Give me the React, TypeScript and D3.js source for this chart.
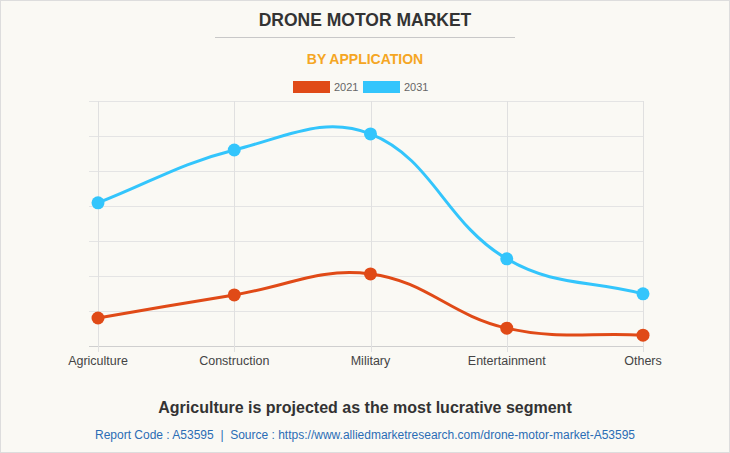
import React from "react";
import * as d3 from "d3";

const categories = ["Agriculture", "Construction", "Military", "Entertainment", "Others"];
const series2021 = [0.8, 1.46, 2.06, 0.51, 0.31];
const series2031 = [4.09, 5.6, 6.06, 2.49, 1.49];
const yTicks = [0, 1, 2, 3, 4, 5, 6, 7];
const seriesNames = ["2021", "2031"];
const seriesColors = ["#e04a17", "#33c5fc"];

const W = 730;
const H = 453;
const FONT = "'Liberation Sans', Arial, Helvetica, sans-serif";

type P = { x: number; y: number };

function chartJsSpline(pts: P[], t: number, top: number, bottom: number): string {
  const p = d3.path();
  const cps = pts.map((cur, i) => {
    const prev = i === 0 ? cur : pts[i - 1];
    const next = i === pts.length - 1 ? cur : pts[i + 1];
    const d01 = Math.hypot(cur.x - prev.x, cur.y - prev.y);
    const d12 = Math.hypot(next.x - cur.x, next.y - cur.y);
    let s01 = d01 / (d01 + d12);
    let s12 = d12 / (d01 + d12);
    if (isNaN(s01)) s01 = 0;
    if (isNaN(s12)) s12 = 0;
    const fa = t * s01;
    const fb = t * s12;
    const clamp = (v: number) => Math.max(top, Math.min(bottom, v));
    return {
      prev: { x: cur.x - fa * (next.x - prev.x), y: clamp(cur.y - fa * (next.y - prev.y)) },
      next: { x: cur.x + fb * (next.x - prev.x), y: clamp(cur.y + fb * (next.y - prev.y)) },
    };
  });
  pts.forEach((pt, i) => {
    if (i === 0) p.moveTo(pt.x, pt.y);
    else p.bezierCurveTo(cps[i - 1].next.x, cps[i - 1].next.y, cps[i].prev.x, cps[i].prev.y, pt.x, pt.y);
  });
  return p.toString();
}

export default function App() {
  const x = d3.scalePoint<string>().domain(categories).range([98, 643]);
  const y = d3.scaleLinear().domain([0, 7]).range([346, 101]);
  const gridLeft = 89;
  const gridRight = 644;
  const data = [series2021, series2031];

  return (
    <div style={{ position: "fixed", left: 0, top: 0 }}>
      <svg width={W} height={H} style={{ display: "block" }}>
        <rect x={0.5} y={0.5} width={W - 1} height={H - 1} fill="#faf9f4" stroke="#dddddd" />
        <text x={365} y={26} textAnchor="middle" fontFamily={FONT} fontWeight="bold" fontSize={17.5} fill="#333333">
          DRONE MOTOR MARKET
        </text>
        <line x1={215} x2={515} y1={37.5} y2={37.5} stroke="#c8c8c8" strokeWidth={1} />
        <text x={365} y={64} textAnchor="middle" fontFamily={FONT} fontWeight="bold" fontSize={14} fill="#f5a623">
          BY APPLICATION
        </text>
        {seriesNames.map((n, i) => (
          <g key={n} transform={`translate(${293 + i * 70},81)`}>
            <rect x={0} y={0} width={37} height={12} fill={seriesColors[i]} />
            <text x={41} y={10} fontFamily={FONT} fontSize={11} fill="#666666">
              {n}
            </text>
          </g>
        ))}
        {yTicks.map((t) => (
          <line
            key={t}
            x1={gridLeft}
            x2={gridRight}
            y1={Math.round(y(t)) + 0.5}
            y2={Math.round(y(t)) + 0.5}
            stroke={t === 0 ? "#cfcfcf" : "#e4e4e4"}
            strokeWidth={1}
          />
        ))}
        {categories.map((c) => (
          <g key={c}>
            <line
              x1={Math.round(x(c)!) + 0.5}
              x2={Math.round(x(c)!) + 0.5}
              y1={101}
              y2={352}
              stroke="#e0e0e0"
              strokeWidth={1}
            />
            <text x={x(c)} y={365} textAnchor="middle" fontFamily={FONT} fontSize={12.5} fill="#444444">
              {c}
            </text>
          </g>
        ))}
        {data.map((s, si) => {
          const pts = s.map((v, i) => ({ x: x(categories[i])!, y: y(v) }));
          return (
            <g key={si}>
              <path d={chartJsSpline(pts, 0.4, 101, 346)} fill="none" stroke={seriesColors[si]} strokeWidth={3} />
              {pts.map((p, i) => (
                <circle key={i} cx={p.x} cy={p.y} r={6.5} fill={seriesColors[si]} />
              ))}
            </g>
          );
        })}
        <text x={365} y={413} textAnchor="middle" fontFamily={FONT} fontWeight="bold" fontSize={16} fill="#333333">
          Agriculture is projected as the most lucrative segment
        </text>
        <text
          x={365}
          y={439}
          textAnchor="middle"
          fontFamily={FONT}
          fontSize={12}
          fill="#2a6db5"
          style={{ whiteSpace: "pre" }}
        >
          {"Report Code : A53595  |  Source : https://www.alliedmarketresearch.com/drone-motor-market-A53595"}
        </text>
      </svg>
    </div>
  );
}
